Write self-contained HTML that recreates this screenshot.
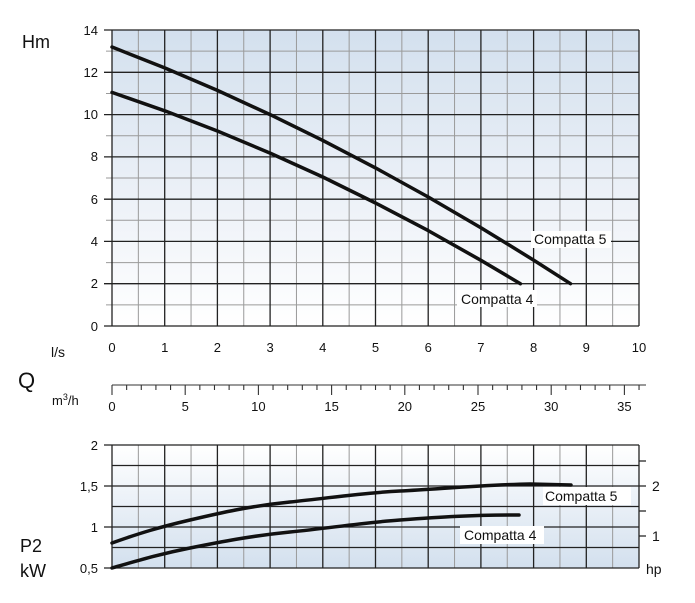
<!DOCTYPE html><html><head><meta charset="utf-8"><style>body{margin:0;background:#fff}svg{display:block}text{font-family:"Liberation Sans",sans-serif;fill:#111}</style></head><body>
<svg width="695" height="603" viewBox="0 0 695 603" xmlns="http://www.w3.org/2000/svg">
<defs>
<linearGradient id="g1" x1="0" y1="0" x2="0" y2="1"><stop offset="0" stop-color="#d3e0ee"/><stop offset="0.6" stop-color="#eef2f8"/><stop offset="1" stop-color="#ffffff"/></linearGradient>
<linearGradient id="g2" x1="0" y1="0" x2="0" y2="1"><stop offset="0" stop-color="#ffffff"/><stop offset="1" stop-color="#d3e0ee"/></linearGradient>
</defs>
<rect x="112" y="30" width="527" height="296" fill="url(#g1)"/>
<rect x="112" y="445" width="527" height="123" fill="url(#g2)"/>
<path fill="none" stroke="#9a9a9a" stroke-width="1" d="
M138.35,30V326M191.05,30V326M243.75,30V326M296.45,30V326M349.15,30V326M401.85,30V326M454.55,30V326M507.25,30V326M559.95,30V326M612.65,30V326
M106,304.9H639M106,262.6H639M106,220.3H639M106,178H639M106,135.7H639M106,93.5H639M106,51.1H639
M138.35,445V568M191.05,445V568M243.75,445V568M296.45,445V568M349.15,445V568M401.85,445V568M454.55,445V568M507.25,445V568M559.95,445V568M612.65,445V568"/>
<path fill="none" stroke="#222" stroke-width="1.3" d="
M112,30V326M164.7,30V326M217.4,30V326M270.1,30V326M322.8,30V326M375.5,30V326M428.2,30V326M480.9,30V326M533.6,30V326M586.3,30V326M639,30V326
M104,326H639M104,283.7H639M104,241.4H639M104,199.2H639M104,156.9H639M104,114.6H639M104,72.3H639M104,30H639
M112,445V568M164.7,445V568M217.4,445V568M270.1,445V568M322.8,445V568M375.5,445V568M428.2,445V568M480.9,445V568M533.6,445V568M586.3,445V568M639,445V568
M104,445H639M112,465.5H639M104,486H639M112,506.5H639M104,527H639M112,547.5H639M104,568H639
M639,461H646M639,486H646M639,511H646M639,536H646"/>
<path fill="none" stroke="#333" stroke-width="1.1" d="M112,385H646
M112,385v10M126.64,385v5M141.28,385v5M155.92,385v5M170.56,385v5M185.2,385v10M199.84,385v5M214.48,385v5M229.12,385v5M243.76,385v5M258.4,385v10M273.04,385v5M287.68,385v5M302.32,385v5M316.96,385v5M331.6,385v10M346.24,385v5M360.88,385v5M375.52,385v5M390.16,385v5M404.8,385v10M419.44,385v5M434.08,385v5M448.72,385v5M463.36,385v5M478,385v10M492.64,385v5M507.28,385v5M521.92,385v5M536.56,385v5M551.2,385v10M565.84,385v5M580.48,385v5M595.12,385v5M609.76,385v5M624.4,385v10M639.04,385v5"/>
<g fill="none" stroke="#111" stroke-width="3.5" stroke-linecap="round" stroke-linejoin="round">
<polyline points="112,47 164.7,67.9 217.4,90.4 270.1,114.6 322.8,140.4 375.5,167.9 428.2,197 480.9,227.7 533.6,260.1 570.5,283.7"/>
<polyline points="112,92.4 164.7,110.8 217.4,131 270.1,153.1 322.8,177 375.5,203 428.2,230.6 480.9,260.3 520.4,283.7"/>
<path d="M112,543 C140,533 160,527 190,520 S250,506 290,502 S360,493 400,491 S480,485 530,484 L571,485"/>
<path d="M112,568 C140,560 160,554 190,548 S250,536 290,532 S360,523 400,520 S470,515 519,515"/>
</g>
<g fill="#fff">
<rect x="531" y="231" width="80" height="17"/><rect x="457" y="290" width="80" height="17"/>
<rect x="543" y="487" width="88" height="18"/><rect x="460" y="526" width="84" height="18"/>
</g>
<g font-size="14">
<text x="534" y="244">Compatta 5</text><text x="461" y="304">Compatta 4</text>
<text x="545" y="501">Compatta 5</text><text x="464" y="540">Compatta 4</text>
</g>
<g font-size="13" text-anchor="end">
<text x="98" y="35">14</text><text x="98" y="77">12</text><text x="98" y="119">10</text><text x="98" y="161">8</text><text x="98" y="204">6</text><text x="98" y="246">4</text><text x="98" y="288">2</text><text x="98" y="331">0</text>
<text x="98" y="450">2</text><text x="98" y="491">1,5</text><text x="98" y="532">1</text><text x="98" y="573">0,5</text>
</g>
<g font-size="13" text-anchor="middle">
<text x="112" y="352">0</text><text x="164.7" y="352">1</text><text x="217.4" y="352">2</text><text x="270.1" y="352">3</text><text x="322.8" y="352">4</text><text x="375.5" y="352">5</text><text x="428.2" y="352">6</text><text x="480.9" y="352">7</text><text x="533.6" y="352">8</text><text x="586.3" y="352">9</text><text x="639" y="352">10</text>
<text x="112" y="411">0</text><text x="185.2" y="411">5</text><text x="258.4" y="411">10</text><text x="331.6" y="411">15</text><text x="404.8" y="411">20</text><text x="478" y="411">25</text><text x="551.2" y="411">30</text><text x="624.4" y="411">35</text>
</g>
<g font-size="14"><text x="652" y="491">2</text><text x="652" y="541">1</text><text x="646" y="574">hp</text></g>
<text x="22" y="48" font-size="18">Hm</text>
<text x="51" y="357" font-size="14">l/s</text>
<text x="18" y="388" font-size="22">Q</text>
<text x="52" y="405" font-size="13">m<tspan font-size="9" dy="-5">3</tspan><tspan dy="5">/h</tspan></text>
<text x="20" y="552" font-size="18">P2</text>
<text x="20" y="577" font-size="18">kW</text>
</svg>
</body></html>
